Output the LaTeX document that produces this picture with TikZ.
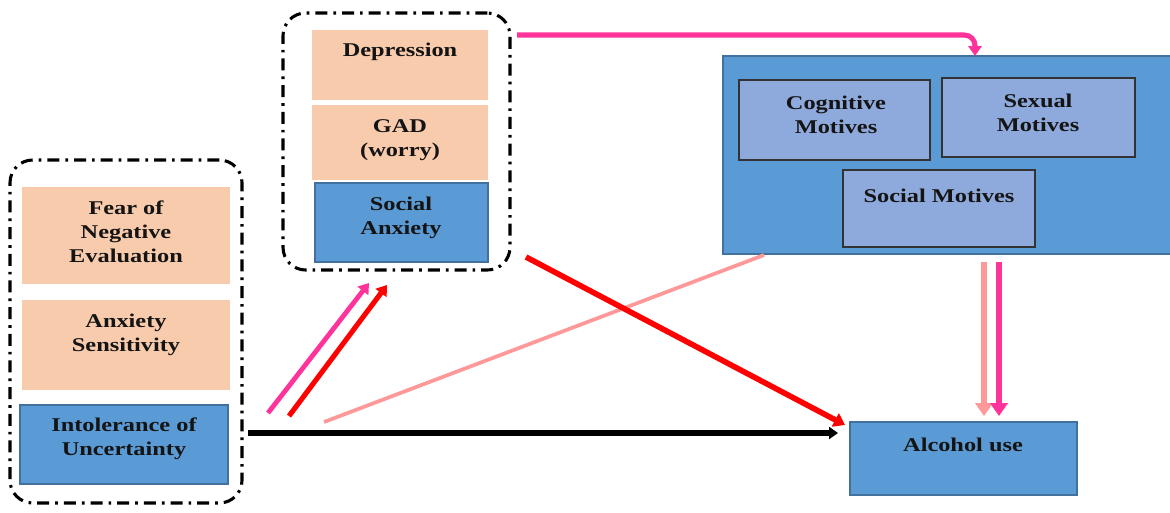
\documentclass[tikz,border=0pt]{standalone}
\usepackage{fontspec}
\setmainfont{Liberation Serif}[FakeStretch=1.25]
\usetikzlibrary{arrows.meta,fit}
\definecolor{peach}{HTML}{F8CBAD}
\definecolor{ublue}{HTML}{5B9BD5}
\definecolor{bedge}{HTML}{41719C}
\definecolor{mblue}{HTML}{8EA9DB}
\definecolor{hotpink}{HTML}{FF3399}
\definecolor{rosy}{HTML}{FF9999}
\definecolor{pathred}{HTML}{FF0000}
\tikzset{
  group/.style={draw=black, line width=2.3pt, dash pattern=on 9pt off 4.5pt on 2pt off 4.5pt,
                rounded corners=17pt, inner sep=0pt},
  peachbox/.style={fill=peach, draw=none, inner sep=0pt},
  bluebox/.style={fill=ublue, draw=bedge, line width=1pt, inner sep=0pt},
  motive/.style={fill=mblue, draw=black!80, line width=1.4pt, inner sep=0pt},
  lbl/.style={font=\bfseries\fontsize{14.6}{18}\selectfont, align=center, inner sep=0pt, text=black!92},
  tip/.style={-{Triangle[width=#1, length=0.75*#1]}},
  tip/.default=9pt
}
\begin{document}
\begin{tikzpicture}[x=0.75pt, y=-0.75pt]
\useasboundingbox (0,0) rectangle (1170,512);

% left group: trait predictors
\node[group, fit={(10,160)(242,503)}] (leftgrp) {};
\node[peachbox, fit={(22,187)(230,284)}] (fne) {};
\node[lbl] at (126,232) {Fear of\\Negative\\Evaluation};
\node[peachbox, fit={(22,300)(230,390)}] (as) {};
\node[lbl] at (126,335) {Anxiety\\Sensitivity};
\node[bluebox, fit={(20,405)(228,484)}] (iu) {};
\node[lbl] at (124,439) {Intolerance of\\Uncertainty};

% middle group: disorders
\node[group, fit={(283,13)(510,270)}] (midgrp) {};
\node[peachbox, fit={(312,30)(488,100)}] (dep) {};
\node[lbl] at (400,52) {Depression};
\node[peachbox, fit={(312,105)(488,180)}] (gad) {};
\node[lbl] at (400,140) {GAD\\(worry)};
\node[bluebox, fit={(315,183)(488,262)}] (sa) {};
\node[lbl] at (401,218) {Social\\Anxiety};

% drinking motives
\node[bluebox, fit={(723,56)(1176,254)}] (motives) {};
\node[motive, fit={(739,80)(930,160)}] (cog) {};
\node[lbl] at (836,115) {Cognitive\\Motives};
\node[motive, fit={(942,78)(1135,157)}] (sex) {};
\node[lbl] at (1038,113) {Sexual\\Motives};
\node[motive, fit={(843,170)(1035,247)}] (soc) {};
\node[lbl] at (939,196) {Social Motives};

% outcome
\node[bluebox, fit={(850,422)(1077,495)}] (alc) {};
\node[lbl] at (963,445) {Alcohol use};

% path end points
\coordinate (topA) at (517,35);
\coordinate (topB) at (975,56);
\coordinate (pkA) at (268,413);
\coordinate (pkB) at (369,283);
\coordinate (rdA) at (289,416);
\coordinate (rdB) at (387,285);
\coordinate (lpA) at (324,422);
\coordinate (lpB) at (764,255);
\coordinate (xA) at (526,257);
\coordinate (xB) at (845,425);
\coordinate (dirA) at (248,433);
\coordinate (dirB) at (838,433);
\coordinate (d1A) at (984,262);
\coordinate (d1B) at (984,416);
\coordinate (d2A) at (999,262);
\coordinate (d2B) at (999,416);

% paths
\draw[hotpink, line width=3.8pt, rounded corners=8pt, tip=10pt] (topA) -| (topB);
\draw[hotpink, line width=3.6pt, tip=10pt] (pkA) -- (pkB);
\draw[pathred, line width=3.8pt, tip=10pt] (rdA) -- (rdB);
\draw[rosy, line width=2.8pt] (lpA) -- (lpB);
\draw[pathred, line width=4.2pt, tip=11pt] (xA) -- (xB);
\draw[black, line width=3.8pt, tip=9pt] (dirA) -- (dirB);
\draw[rosy, line width=5pt, tip=13pt] (d1A) -- (d1B);
\draw[hotpink, line width=5pt, tip=13pt] (d2A) -- (d2B);
\end{tikzpicture}
\end{document}
